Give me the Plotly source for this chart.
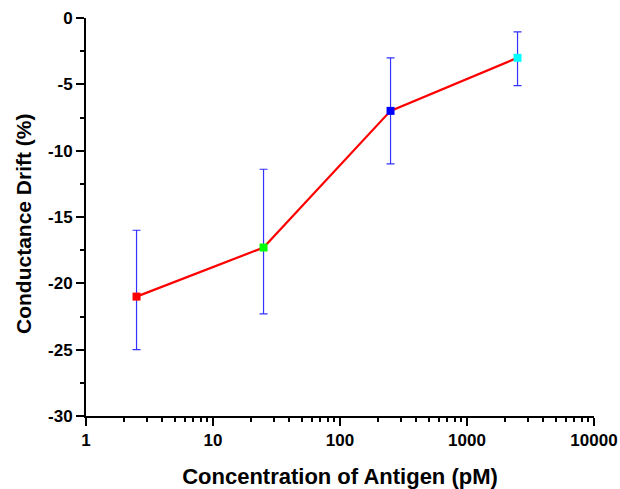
import plotly.graph_objects as go

# Data
concentration_pM = [2.5, 25, 250, 2500]
drift_pct = [-21.0, -17.3, -7.0, -3.0]
err_plus = [5.0, 5.9, 4.0, 1.95]
err_minus = [4.0, 5.0, 4.0, 2.1]
marker_colors = ["#ff0000", "#00ff00", "#0000ff", "#00ffff"]

x_tick_vals = [1, 10, 100, 1000, 10000]
x_tick_text = ["1", "10", "100", "1000", "10000"]
y_tick_vals = [-30, -25, -20, -15, -10, -5, 0]
y_tick_text = ["-30", "-25", "-20", "-15", "-10", "-5", "0"]

x_title = "Concentration of Antigen (pM)"
y_title = "Conductance Drift (%)"

x_minor = [m * 10 ** d for d in range(0, 4) for m in range(2, 10)]
y_minor = [v + 2.5 for v in y_tick_vals[:-1]]

FONT = "Liberation Sans, Arial, sans-serif"


def bold(labels):
    return ["<b>%s</b>" % t for t in labels]


fig = go.Figure()

# error bars (under line)
fig.add_trace(go.Scatter(
    x=concentration_pM, y=drift_pct, mode="markers",
    marker=dict(size=1, color="rgba(0,0,0,0)"),
    error_y=dict(type="data", symmetric=False, array=err_plus, arrayminus=err_minus,
                 color="#3333ff", thickness=1.2, width=4),
    showlegend=False, hoverinfo="skip",
))
# line
fig.add_trace(go.Scatter(
    x=concentration_pM, y=drift_pct, mode="lines",
    line=dict(color="#ff0000", width=2.2),
    showlegend=False,
))
# markers
fig.add_trace(go.Scatter(
    x=concentration_pM, y=drift_pct, mode="markers",
    marker=dict(symbol="square", size=8, color=marker_colors, line=dict(width=0)),
    showlegend=False,
))

fig.update_layout(
    width=620, height=489,
    margin=dict(l=86, r=26, t=18, b=73),
    paper_bgcolor="white", plot_bgcolor="white",
    font=dict(family=FONT, color="black"),
    xaxis=dict(
        type="log", range=[0, 4], automargin=False,
        tickmode="array", tickvals=x_tick_vals, ticktext=bold(x_tick_text),
        ticks="outside", ticklen=8, tickwidth=2, tickcolor="black",
        showline=True, linecolor="black", linewidth=2,
        showgrid=False, zeroline=False,
        tickfont=dict(family=FONT, size=17, color="black"),
        minor=dict(tickmode="array", tickvals=x_minor, ticks="outside",
                   ticklen=4, tickwidth=2, tickcolor="black", showgrid=False),
        title=dict(text="<b>%s</b>" % x_title, standoff=22,
                   font=dict(family=FONT, size=22, color="black")),
    ),
    yaxis=dict(
        range=[-30, 0], automargin=False,
        tickmode="array", tickvals=y_tick_vals, ticktext=bold(y_tick_text),
        ticks="outside", ticklen=8, tickwidth=2, tickcolor="black",
        showline=True, linecolor="black", linewidth=2,
        showgrid=False, zeroline=False,
        tickfont=dict(family=FONT, size=17, color="black"),
        minor=dict(tickmode="array", tickvals=y_minor, ticks="outside",
                   ticklen=4, tickwidth=2, tickcolor="black", showgrid=False),
    ),
    annotations=[dict(
        text="<b>%s</b>" % y_title, textangle=-90,
        xref="paper", yref="paper", x=0, y=0.5,
        xanchor="center", yanchor="middle", xshift=-63, yshift=-7,
        showarrow=False, font=dict(family=FONT, size=21, color="black"),
    )],
)

fig.write_html(
    "out.html",
    config={"displayModeBar": False},
    post_script="document.body.style.margin='0';document.body.style.overflow='hidden';",
)
